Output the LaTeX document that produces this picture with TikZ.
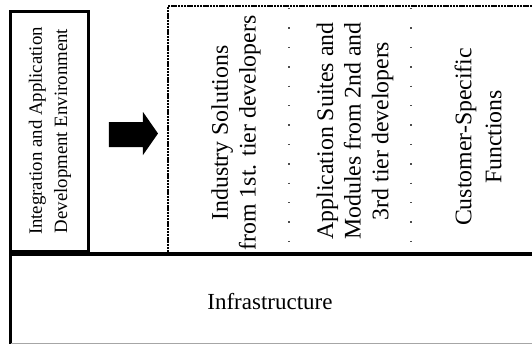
\documentclass[tikz,border=0pt]{standalone}
\usepackage{fontspec}
\setmainfont{Liberation Serif}
\begin{document}
\begin{tikzpicture}[x=0.5pt,y=-0.5pt,
  heavyrule/.style={line width=1.5pt, black},
  baserule/.style={line width=2.2pt, black},
  denserule/.style={line width=1pt, black, dash pattern=on 1.2pt off 0.4pt},
  sparserule/.style={line width=0.7pt, black!70, dash pattern=on 0.7pt off 9pt},
  collabel/.style={rotate=90, align=center, inner sep=0pt,
    font=\fontsize{11.9}{13.8}\selectfont}]
\useasboundingbox (0,0) rectangle (532,344);
\fill[white] (0,0) rectangle (532,344);

% development environment box on the left
\node[draw, heavyrule, rotate=90, minimum width=120pt, minimum height=39pt,
      inner sep=0pt, font=\fontsize{9.4}{12.6}\selectfont, align=center]
  (env) at (50,131) {Integration and Application\\Development Environment};

% block arrow pointing at the solution layer
\fill[black] (109,122) -- (143,122) -- (143,112) -- (158,133.5)
  -- (143,155) -- (143,147) -- (109,147) -- cycle;

% dotted frame of the solution layer and its column separators
\coordinate (frameTL) at (168,6);
\coordinate (frameTR) at (532,6);
\coordinate (frameBL) at (168,252);
\draw[denserule] (frameTR) -- (frameTL) -- (frameBL);
\coordinate (sepAtop) at (289,8);
\coordinate (sepAbot) at (289,252);
\coordinate (sepBtop) at (411,8);
\coordinate (sepBbot) at (411,252);
\draw[sparserule] (sepAtop) -- (sepAbot);
\draw[sparserule] (sepBtop) -- (sepBbot);

% solution columns
\node[collabel] (industry) at (236,133)
  {Industry Solutions\\from 1st. tier developers};
\node[collabel] (suites) at (355,131)
  {Application Suites and\\Modules from 2nd and\\3rd tier developers};
\node[collabel, font=\fontsize{11.9}{15}\selectfont] (custom) at (478,137)
  {Customer-Specific\\Functions};

% infrastructure layer
\coordinate (infTL) at (11,254);
\coordinate (infTR) at (532,254);
\coordinate (infBL) at (11,344);
\coordinate (infBR) at (532,343);
\draw[baserule] (infTL) -- (infTR);
\draw[heavyrule] (11,251) -- (infBL);
\draw[line width=0.5pt, black!35] (11,343) -- (infBR);
\node[inner sep=0pt, font=\fontsize{11.5}{13}\selectfont] (infra) at (270,302)
  {Infrastructure};
\end{tikzpicture}
\end{document}
